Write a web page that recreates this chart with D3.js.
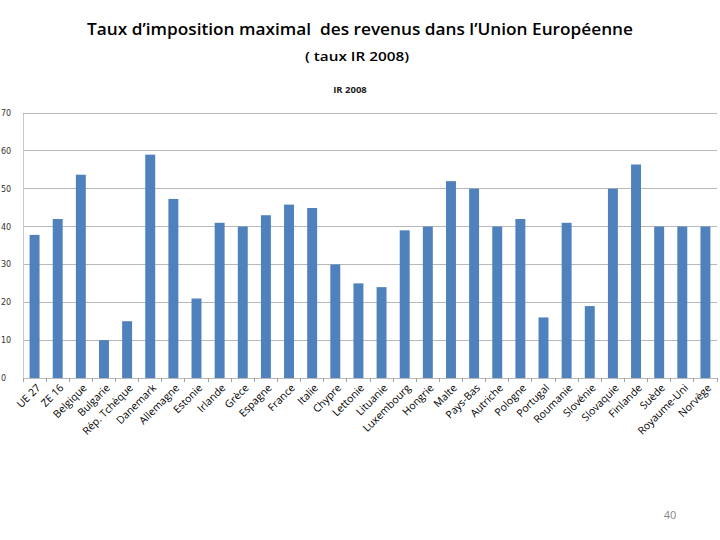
<!DOCTYPE html>
<html><head><meta charset="utf-8">
<script src="https://cdn.jsdelivr.net/npm/d3@7"></script>
<style>body{margin:0;background:#fff}svg{display:block}</style>
</head><body>
<svg id="c" width="720" height="540"></svg>
<script>
const categories = ["UE 27","ZE 16","Belgique","Bulgarie","Rép. Tchèque","Danemark","Allemagne","Estonie","Irlande","Grèce","Espagne","France","Italie","Chypre","Lettonie","Lituanie","Luxembourg","Hongrie","Malte","Pays-Bas","Autriche","Pologne","Portugal","Roumanie","Slovénie","Slovaquie","Finlande","Suède","Royaume-Uni","Norvège"];
const values = [37.8,42,53.7,10,15,59,47.3,21,41,40,43,45.8,44.9,30,25,24,39,40,52,50,40,42,16,41,19,50,56.4,40,40,40];
const yTicks = [0,10,20,30,40,50,60,70];
const title = "Taux d’imposition maximal  des revenus dans l’Union Européenne";
const subtitle = "( taux IR 2008)";
const chartTitle = "IR 2008";
const pageNum = "40";

const svg = d3.select("#c");
const L = 23, R = 717, T = 113, B = 378;
const x = d3.scaleBand().domain(categories).range([L, R]).paddingInner(0.57).paddingOuter(0.285);
const y = d3.scaleLinear().domain([0, 70]).range([B, T]);

svg.append("text").attr("x", 360).attr("y", 35).attr("text-anchor", "middle")
  .style("white-space", "pre")
  .attr("font-family", "Open Sans, sans-serif").attr("font-size", 16.5).attr("font-weight", 600).attr("fill", "#000")
  .attr("textLength", 546).attr("lengthAdjust", "spacingAndGlyphs").text(title);
svg.append("text").attr("x", 357).attr("y", 61).attr("text-anchor", "middle")
  .attr("font-family", "Open Sans, sans-serif").attr("font-size", 12).attr("font-weight", 600).attr("fill", "#000")
  .attr("textLength", 104).attr("lengthAdjust", "spacingAndGlyphs").text(subtitle);
svg.append("text").attr("x", 350).attr("y", 93).attr("text-anchor", "middle")
  .attr("font-family", "Open Sans, sans-serif").attr("font-size", 9.5).attr("font-weight", "bold").attr("fill", "#222").text(chartTitle);

// gridlines
svg.append("g").selectAll("line").data(yTicks).join("line")
  .attr("x1", L).attr("x2", R).attr("y1", d => y(d)).attr("y2", d => y(d))
  .attr("stroke", "#b8b8b8").attr("stroke-width", 1).attr("shape-rendering", "crispEdges");

// y axis
const ya = svg.append("g").attr("transform", `translate(${L},0)`)
  .call(d3.axisLeft(y).tickValues(yTicks).tickSize(0).tickPadding(9));
ya.select(".domain").attr("stroke", "#c8c8c8").attr("shape-rendering", "crispEdges");
ya.selectAll("text").attr("font-family", "DejaVu Sans, sans-serif").attr("font-size", 8).attr("fill", "#333").attr("text-anchor", "start").attr("x", -22);

// bars
svg.append("g").selectAll("rect").data(values).join("rect")
  .attr("x", (d, i) => x(categories[i])).attr("width", x.bandwidth())
  .attr("y", d => y(d)).attr("height", d => B - y(d)).attr("fill", "#4F81BD");

// x axis ticks at category boundaries
const bounds = d3.range(categories.length + 1).map(i => L + i * (R - L) / categories.length);
svg.append("g").selectAll("line").data(bounds).join("line")
  .attr("x1", d => d).attr("x2", d => d).attr("y1", B).attr("y2", B + 4)
  .attr("stroke", "#a0a0a0").attr("shape-rendering", "crispEdges");

// x labels
svg.append("g").selectAll("text").data(categories).join("text")
  .attr("transform", d => `translate(${x(d) + x.bandwidth() / 2 + 4},${B + 8}) rotate(-45)`)
  .attr("text-anchor", "end").attr("dy", "0.35em")
  .attr("font-family", "Open Sans, sans-serif").attr("font-size", 10.5).attr("fill", "#000")
  .text(d => d);

svg.append("text").attr("x", 670).attr("y", 519).attr("text-anchor", "middle")
  .attr("font-family", "Open Sans, sans-serif").attr("font-size", 11).attr("fill", "#888").text(pageNum);
</script>
</body></html>
